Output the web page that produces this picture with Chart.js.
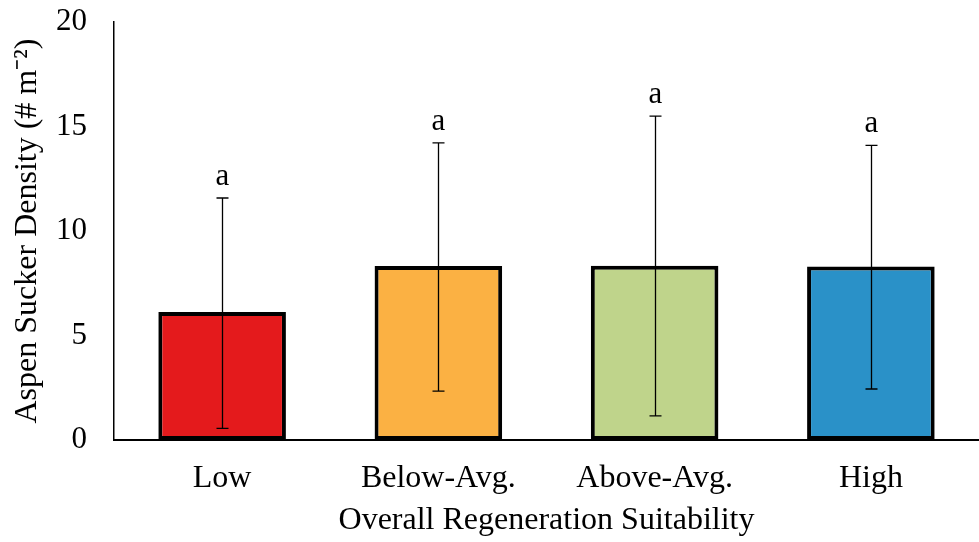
<!DOCTYPE html>
<html>
<head>
<meta charset="utf-8">
<script src="https://cdn.jsdelivr.net/npm/chart.js@4"></script>
<style>
  body { margin: 0; background: #fff; }
</style>
</head>
<body>
<canvas id="myChart" width="979" height="542"></canvas>
<script>
const categories = ['Low', 'Below-Avg.', 'Above-Avg.', 'High'];
const density = [6.12, 8.32, 8.34, 8.3];
const errHigh = [11.58, 14.22, 15.5, 14.1];
const errLow = [0.56, 2.34, 1.15, 2.44];
const letters = ['a', 'a', 'a', 'a'];
const barColors = ['#E41A1C', '#FBB143', '#BFD48B', '#2A91C8'];

const fontFamily = '"Liberation Serif", "Times New Roman", serif';

const errorBars = {
  id: 'errorBars',
  afterDatasetsDraw(chart) {
    const c = chart.ctx;
    const y = chart.scales.y;
    const meta = chart.getDatasetMeta(0);
    c.save();
    c.strokeStyle = '#000';
    c.lineWidth = 1.3;
    c.fillStyle = '#000';
    c.font = '31px ' + fontFamily;
    c.textAlign = 'center';
    c.textBaseline = 'alphabetic';
    meta.data.forEach((bar, i) => {
      const x = Math.round(bar.x) + 0.5;
      const top = y.getPixelForValue(errHigh[i]);
      const bot = y.getPixelForValue(errLow[i]);
      c.beginPath();
      c.moveTo(x, top);
      c.lineTo(x, bot);
      c.moveTo(x - 6, top);
      c.lineTo(x + 6, top);
      c.moveTo(x - 6, bot);
      c.lineTo(x + 6, bot);
      c.stroke();
      c.fillText(letters[i], x, top - 13);
    });
    c.restore();
  }
};

const ctx = document.getElementById('myChart');
const myChart = new Chart(ctx, {
  type: 'bar',
  data: {
    labels: categories,
    datasets: [{
      data: density,
      backgroundColor: barColors,
      borderColor: '#000',
      borderWidth: 4,
      borderSkipped: false,
      barPercentage: 0.59,
      categoryPercentage: 1
    }]
  },
  options: {
    responsive: false,
    animation: false,
    layout: { padding: { top: 22, right: 0, bottom: 0, left: 0 } },
    plugins: {
      legend: { display: false },
      tooltip: { enabled: false }
    },
    scales: {
      x: {
        grid: { display: false, drawTicks: false },
        border: { color: '#000', width: 2 },
        ticks: { color: '#000', font: { family: fontFamily, size: 32 }, padding: 19 },
        title: {
          display: true,
          text: 'Overall Regeneration Suitability',
          color: '#000',
          font: { family: fontFamily, size: 32 },
          padding: { top: 2, bottom: 2 }
        },
        afterFit(scale) { scale.height = 102; }
      },
      y: {
        min: 0,
        max: 20,
        grid: { display: false, drawTicks: false },
        border: { color: '#000', width: 1.5 },
        ticks: { stepSize: 5, color: '#000', font: { family: fontFamily, size: 31 }, padding: 27 },
        title: {
          display: true,
          text: 'Aspen Sucker Density (# m⁻²)',
          color: '#000',
          font: { family: fontFamily, size: 32 },
          padding: { top: 8, bottom: 0 }
        },
        afterFit(scale) {
          scale.width = 114;
          scale.paddingTop = 0;
          scale.paddingBottom = 0;
        }
      }
    }
  },
  plugins: [errorBars]
});
</script>
</body>
</html>
